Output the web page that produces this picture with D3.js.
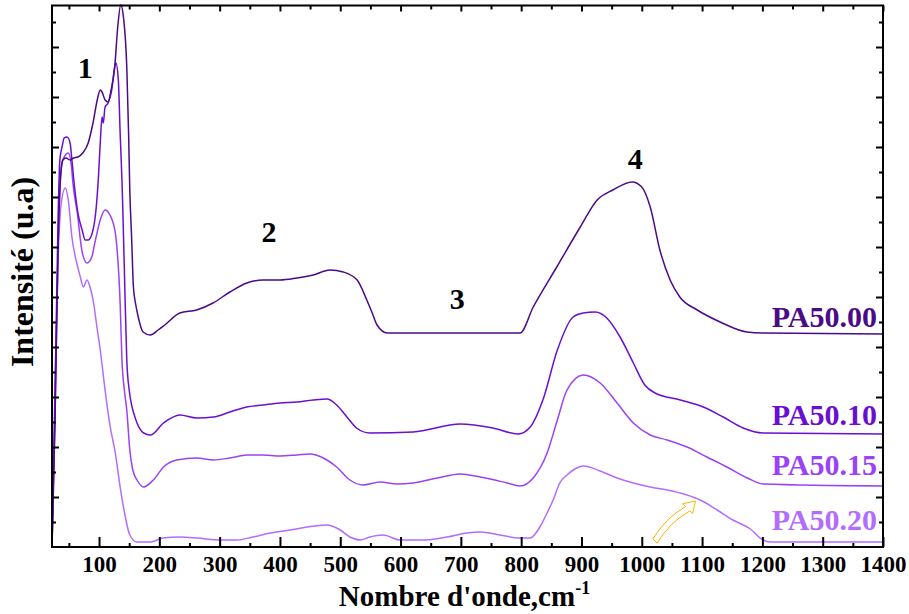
<!DOCTYPE html>
<html>
<head>
<meta charset="utf-8">
<script src="https://cdn.jsdelivr.net/npm/d3@7/dist/d3.min.js"></script>
<style>
  html, body { margin: 0; padding: 0; background: #fff; }
  svg { display: block; }
  text { font-family: "Liberation Serif", "Times New Roman", serif; font-weight: bold; }
</style>
</head>
<body>
<svg id="chart" width="909" height="614"></svg>
<script>
// ---------------- DATA ----------------
const seriesNames = ["PA50.00", "PA50.10", "PA50.15", "PA50.20"];
const seriesColors = ["#4a0b86", "#6a0fd2", "#9a42f6", "#b26cff"];

const pa5000_w = [22,27,32,37,40,45,52,58,65,73,82,90,97,102,105,110,115,120,126,131,136,141,146,149,151,154,157,161,165,173,185,198,209,234,262,289,317,345,372,400,428,455,483,505,528,544,553,561,578,599,798,820,859,898,926,952,984,1000,1014,1030,1047,1063,1092,1130,1174,1201,1400];
const pa5000_v = [0,25.4,59.4,75.4,77.4,77.8,77.4,77.8,78,78.8,80.8,84.8,89.4,91.4,91,89.4,89,91.4,96,104,108.4,105.4,96,82.8,71.4,62,52,48.4,46,43,42.4,43.4,44.4,46.8,47.4,48.8,51,52.8,53.4,53.4,53.8,54.4,55.4,55,53.4,49.4,46.8,44.4,42.8,42.8,42.8,48,56,64,69.4,71.4,73,72,68,59.4,53.4,50,47.4,45,43,42.8,42.6];

const pa5010_w = [22,27,32,35,39,42,47,52,55,59,65,72,77,82,90,96,99,102,105,107,110,115,121,126,128,132,135,138,139,142,146,150,154,157,163,174,185,207,234,262,290,317,345,372,400,428,455,478,494,511,527,549,621,699,753,795,815,836,860,886,903,923,942,964,986,1005,1022,1064,1102,1135,1168,1201,1400];
const pa5010_v = [0,29.4,65.4,77.4,80.2,81.8,82,80.8,77.4,72.4,66.8,63.4,61.4,61.4,63.4,68.8,74,80.8,86,84.8,88,88.8,91.4,96,96.8,93.4,82.8,73.4,69.4,55.4,37.4,31.4,28.4,27,24.8,22.8,22.4,24.8,26.4,25.8,26,27,28,28.4,28.8,29,29.4,29.6,28.4,26,23.8,22.8,23,24.6,23.8,22.6,24,29.4,39.4,46,46.8,47,45.8,42,36.8,32.4,30.8,29.4,28,26,23.8,22.8,22.6];

const pa5015_w = [22,27,32,35,40,49,54,57,64,72,80,88,93,102,110,118,127,130,135,138,142,146,151,156,163,174,190,207,229,262,290,317,345,372,400,428,450,472,494,516,538,566,594,621,661,699,732,777,798,820,843,860,876,903,931,959,986,1014,1042,1075,1108,1141,1175,1201,1400];
const pa5015_v = [0,25.4,59.4,71.4,77.4,78.8,76.4,72.4,66.8,59,56.8,58,60.8,65.4,67.4,66.4,62.8,59.4,48.8,37.4,31.4,27.4,19.4,15.4,13.4,12,13.4,16,17.4,17.8,17.4,17.8,18.4,18.4,18.2,18.4,18.6,17.8,16,13.4,12.4,13,12.6,12.8,13.8,14.6,14,12.8,12.2,13.8,18.8,25.4,31.4,34.4,32.8,28.8,24.8,22.4,21.4,20,18,16,13.8,12.6,12.2];

const pa5020_w = [22,27,32,38,44,49,55,63,69,74,80,85,91,96,102,110,118,127,135,143,151,163,185,206,234,263,301,329,355,384,417,445,478,500,516,533,549,571,599,637,677,710,732,765,798,815,831,843,853,864,876,889,903,931,959,986,1014,1042,1075,1097,1125,1151,1180,1201,1213,1400];
const pa5020_v = [0,33.4,57.4,69.4,71.8,69.4,62,56.8,54,52,53.4,52,48.8,44.4,39.4,31.4,24.4,18.8,12,6.4,2.4,1,1,1.8,2,1.8,1.4,1.4,2,2.8,3.4,4,4.4,3.4,2,1.4,2,2.4,1.4,1.4,2,2.8,3,2.4,1.8,1.8,4,6.8,9.4,12.8,14.4,15.6,16.2,15.2,13.8,12.8,12,11.4,10.4,9.4,7.4,5.4,3.6,1.4,1,1];

const xTickValues = [100,200,300,400,500,600,700,800,900,1000,1100,1200,1300,1400];
const xTickLabels = ["100","200","300","400","500","600","700","800","900","1000","1100","1200","1300","1400"];
const bandLabels = ["1", "2", "3", "4"];
const bandPos_w = [77, 382, 694, 989];
const bandPos_v = [93.8, 61, 47.6, 75.6];
const labelPos_v = [44, 24.4, 14.4, 3.4];
const arrowTail = [1022, 1.2];
const arrowTip = [1089, 9.2];

// ---------------- LAYOUT ----------------
const W = 909, H = 614;
const margin = {left: 52, right: 26, top: 5.5, bottom: 67};
const svg = d3.select("#chart");
const x = d3.scaleLinear().domain([22, 1400]).range([margin.left, W - margin.right]);
const y = d3.scaleLinear().domain([0, 108.3]).range([H - margin.bottom, margin.top]);
const x0 = margin.left, x1 = W - margin.right, y0 = H - margin.bottom, y1 = margin.top;

// curves
const series = [
  {w: pa5000_w, v: pa5000_v},
  {w: pa5010_w, v: pa5010_v},
  {w: pa5015_w, v: pa5015_v},
  {w: pa5020_w, v: pa5020_v}
];
const line = d3.line().x(d => x(d[0])).y(d => y(d[1])).curve(d3.curveMonotoneX);
const plot = svg.append("g");
for (let i = series.length - 1; i >= 0; i--) {
  const pts = series[i].w.map((w, k) => [w, series[i].v[k]]);
  plot.append("path").datum(pts)
    .attr("d", line)
    .attr("fill", "none")
    .attr("stroke", seriesColors[i])
    .attr("stroke-width", 1.5)
    .attr("stroke-linejoin", "round");
}

// axes
const minorX = d3.range(50, 1401, 50).filter(v => v % 100 !== 0);
const minorY = d3.range(5, 108, 10);
const majorY = d3.range(10, 108, 10);

const gB = svg.append("g").attr("transform", `translate(0,${y0})`)
  .call(d3.axisBottom(x).tickValues(xTickValues).tickFormat((d, i) => xTickLabels[i]).tickSizeInner(-10).tickSizeOuter(0).tickPadding(9));
gB.append("g").call(d3.axisBottom(x).tickValues(minorX).tickFormat("").tickSizeInner(-4).tickSizeOuter(0));
const gT = svg.append("g").attr("transform", `translate(0,${y1})`)
  .call(d3.axisTop(x).tickValues(xTickValues).tickFormat("").tickSizeInner(-6).tickSizeOuter(0));
gT.append("g").call(d3.axisTop(x).tickValues(minorX).tickFormat("").tickSizeInner(-4).tickSizeOuter(0));
const gL = svg.append("g").attr("transform", `translate(${x0},0)`)
  .call(d3.axisLeft(y).tickValues(majorY).tickFormat("").tickSizeInner(-7).tickSizeOuter(0));
gL.append("g").call(d3.axisLeft(y).tickValues(minorY).tickFormat("").tickSizeInner(-4).tickSizeOuter(0));
const gR = svg.append("g").attr("transform", `translate(${x1},0)`)
  .call(d3.axisRight(y).tickValues(majorY).tickFormat("").tickSizeInner(-7).tickSizeOuter(0));
gR.append("g").call(d3.axisRight(y).tickValues(minorY).tickFormat("").tickSizeInner(-4).tickSizeOuter(0));

svg.selectAll(".domain").remove();
svg.selectAll(".tick line").attr("stroke", "#000").attr("stroke-width", 2);
gB.selectAll(".tick text").attr("font-size", 23).attr("fill", "#000")
  .attr("font-family", "'Liberation Serif', 'Times New Roman', serif").attr("font-weight", "bold");

svg.append("rect").attr("x", x0).attr("y", y1).attr("width", x1 - x0).attr("height", y0 - y1)
  .attr("fill", "none").attr("stroke", "#000").attr("stroke-width", 2);

// axis titles
const xt = svg.append("text").attr("x", (x0 + x1) / 2 - 3).attr("y", 606)
  .attr("text-anchor", "middle").attr("font-size", 29).attr("fill", "#000");
xt.append("tspan").text("Nombre d'onde,cm");
xt.append("tspan").attr("dy", -12).attr("font-size", 18).text("-1");

svg.append("text").attr("transform", `translate(33,272) rotate(-90)`)
  .attr("text-anchor", "middle").attr("font-size", 32).attr("fill", "#000")
  .text("Intensité (u.a)");

// band numbers
bandLabels.forEach((t, i) => {
  svg.append("text").attr("x", x(bandPos_w[i])).attr("y", y(bandPos_v[i]))
    .attr("text-anchor", "middle").attr("font-size", 30).attr("fill", "#000").text(t);
});

// series labels
seriesNames.forEach((t, i) => {
  svg.append("text").attr("x", x1 - 6).attr("y", y(labelPos_v[i]))
    .attr("text-anchor", "end").attr("font-size", 30).attr("fill", seriesColors[i]).text(t);
});

// orange hollow curved arrow
(function () {
  const tx = x(arrowTail[0]), ty = y(arrowTail[1]);
  const hx = x(arrowTip[0]), hy = y(arrowTip[1]);
  const dx = hx - tx, dy = hy - ty, L = Math.hypot(dx, dy);
  const ux = dx / L, uy = dy / L, nx = -uy, ny = ux;
  const headLen = 11, headW = 7, shaftW = 3, bend = 6;
  const bx = hx - ux * headLen, by = hy - uy * headLen;
  const mx = (tx + bx) / 2 - nx * bend, my = (ty + by) / 2 - ny * bend;
  const p = d3.path();
  p.moveTo(tx - nx * shaftW, ty - ny * shaftW);
  p.quadraticCurveTo(mx - nx * shaftW, my - ny * shaftW, bx - nx * shaftW, by - ny * shaftW);
  p.lineTo(bx - nx * headW, by - ny * headW);
  p.lineTo(hx, hy);
  p.lineTo(bx + nx * headW, by + ny * headW);
  p.lineTo(bx + nx * shaftW, by + ny * shaftW);
  p.quadraticCurveTo(mx + nx * shaftW, my + ny * shaftW, tx + nx * shaftW, ty + ny * shaftW);
  p.closePath();
  svg.append("path").attr("d", p.toString()).attr("fill", "none")
    .attr("stroke", "#ffb400").attr("stroke-width", 1);
})();
</script>
</body>
</html>
